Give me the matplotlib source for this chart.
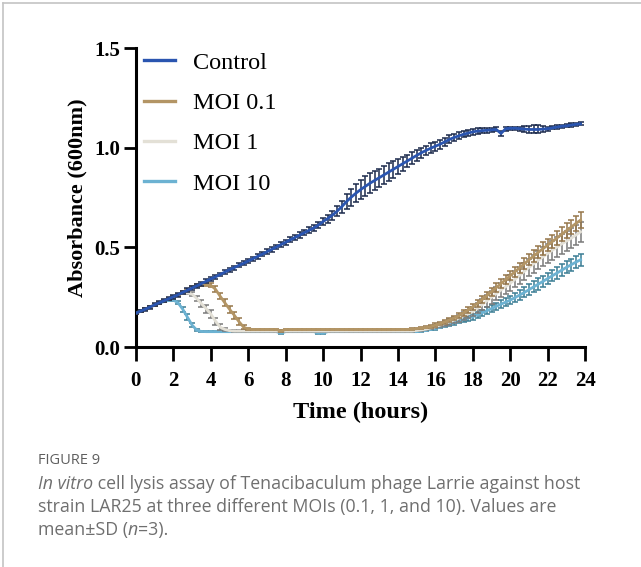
import numpy as np
import matplotlib.pyplot as plt
from matplotlib.lines import Line2D

# --- data (15 min readings, 0 - 23.75 h) ---
time_h = np.arange(96) * 0.25

control = [
    0.170, 0.180, 0.190, 0.200, 0.212, 0.222, 0.232, 0.242,
    0.252, 0.262, 0.274, 0.285, 0.296, 0.307, 0.318, 0.330,
    0.342, 0.352, 0.364, 0.376, 0.388, 0.398, 0.410, 0.420,
    0.432, 0.443, 0.455, 0.466, 0.478, 0.490, 0.502, 0.514,
    0.526, 0.538, 0.550, 0.562, 0.574, 0.586, 0.598, 0.612,
    0.630, 0.645, 0.662, 0.682, 0.705, 0.730, 0.752, 0.772,
    0.790, 0.806, 0.822, 0.836, 0.850, 0.864, 0.878, 0.892,
    0.906, 0.920, 0.934, 0.948, 0.962, 0.975, 0.987, 0.998,
    1.008, 1.018, 1.030, 1.042, 1.052, 1.060, 1.068, 1.074,
    1.080, 1.084, 1.086, 1.088, 1.090, 1.092, 1.072, 1.096,
    1.098, 1.098, 1.096, 1.094, 1.092, 1.092, 1.092, 1.094,
    1.096, 1.100, 1.104, 1.108, 1.110, 1.114, 1.118, 1.120,
]
control_sd = [
    0.006, 0.006, 0.007, 0.007, 0.008, 0.008, 0.008, 0.008,
    0.009, 0.009, 0.009, 0.010, 0.010, 0.010, 0.010, 0.010,
    0.010, 0.010, 0.010, 0.010, 0.010, 0.010, 0.010, 0.010,
    0.011, 0.011, 0.011, 0.011, 0.012, 0.012, 0.012, 0.012,
    0.012, 0.013, 0.013, 0.013, 0.014, 0.014, 0.015, 0.016,
    0.018, 0.020, 0.022, 0.026, 0.030, 0.036, 0.042, 0.046,
    0.048, 0.050, 0.050, 0.048, 0.046, 0.044, 0.044, 0.042,
    0.040, 0.036, 0.032, 0.030, 0.028, 0.026, 0.024, 0.024,
    0.022, 0.022, 0.020, 0.020, 0.018, 0.018, 0.016, 0.016,
    0.014, 0.014, 0.012, 0.012, 0.010, 0.010, 0.012, 0.010,
    0.008, 0.008, 0.010, 0.014, 0.018, 0.020, 0.020, 0.014,
    0.010, 0.008, 0.008, 0.008, 0.008, 0.008, 0.008, 0.008,
]

moi_01 = [
    0.170, 0.180, 0.190, 0.200, 0.212, 0.222, 0.232, 0.242,
    0.252, 0.262, 0.274, 0.285, 0.300, 0.308, 0.312, 0.313,
    0.310, 0.290, 0.255, 0.222, 0.190, 0.160, 0.128, 0.100,
    0.090, 0.088, 0.088, 0.088, 0.088, 0.088, 0.088, 0.080,
    0.088, 0.088, 0.088, 0.088, 0.088, 0.088, 0.088, 0.088,
    0.088, 0.088, 0.088, 0.088, 0.088, 0.088, 0.088, 0.088,
    0.088, 0.088, 0.088, 0.088, 0.088, 0.088, 0.088, 0.088,
    0.088, 0.088, 0.088, 0.090, 0.092, 0.095, 0.098, 0.102,
    0.110, 0.118, 0.126, 0.136, 0.146, 0.158, 0.172, 0.186,
    0.202, 0.220, 0.238, 0.258, 0.278, 0.298, 0.318, 0.338,
    0.358, 0.378, 0.398, 0.418, 0.438, 0.457, 0.476, 0.494,
    0.512, 0.530, 0.548, 0.566, 0.584, 0.602, 0.620, 0.637,
]
moi_01_sd = [
    0.004, 0.004, 0.004, 0.004, 0.004, 0.004, 0.004, 0.004,
    0.005, 0.005, 0.005, 0.005, 0.006, 0.006, 0.006, 0.008,
    0.010, 0.014, 0.016, 0.018, 0.018, 0.018, 0.016, 0.012,
    0.006, 0.004, 0.003, 0.003, 0.003, 0.003, 0.003, 0.006,
    0.003, 0.003, 0.003, 0.003, 0.003, 0.003, 0.003, 0.003,
    0.003, 0.003, 0.003, 0.003, 0.003, 0.003, 0.003, 0.003,
    0.003, 0.003, 0.003, 0.003, 0.003, 0.003, 0.003, 0.003,
    0.003, 0.003, 0.003, 0.004, 0.004, 0.005, 0.005, 0.006,
    0.008, 0.009, 0.010, 0.011, 0.012, 0.013, 0.014, 0.015,
    0.016, 0.017, 0.018, 0.019, 0.020, 0.021, 0.022, 0.023,
    0.024, 0.025, 0.026, 0.027, 0.028, 0.029, 0.030, 0.031,
    0.032, 0.033, 0.034, 0.035, 0.036, 0.037, 0.038, 0.040,
]

moi_1 = [
    0.170, 0.180, 0.190, 0.200, 0.212, 0.222, 0.232, 0.242,
    0.252, 0.262, 0.270, 0.272, 0.265, 0.244, 0.218, 0.193,
    0.166, 0.130, 0.100, 0.088, 0.082, 0.080, 0.080, 0.080,
    0.080, 0.080, 0.080, 0.080, 0.080, 0.080, 0.080, 0.080,
    0.080, 0.080, 0.080, 0.080, 0.080, 0.080, 0.080, 0.080,
    0.080, 0.080, 0.080, 0.080, 0.080, 0.080, 0.080, 0.080,
    0.080, 0.080, 0.080, 0.080, 0.080, 0.080, 0.080, 0.080,
    0.080, 0.080, 0.080, 0.080, 0.083, 0.086, 0.090, 0.096,
    0.102, 0.110, 0.118, 0.126, 0.135, 0.145, 0.156, 0.166,
    0.178, 0.195, 0.213, 0.232, 0.250, 0.268, 0.286, 0.303,
    0.320, 0.340, 0.360, 0.380, 0.400, 0.418, 0.436, 0.453,
    0.470, 0.486, 0.502, 0.518, 0.532, 0.546, 0.562, 0.578,
]
moi_1_sd = [
    0.004, 0.004, 0.004, 0.004, 0.004, 0.004, 0.004, 0.004,
    0.005, 0.005, 0.006, 0.008, 0.010, 0.014, 0.018, 0.020,
    0.020, 0.018, 0.014, 0.008, 0.004, 0.003, 0.003, 0.003,
    0.003, 0.003, 0.003, 0.003, 0.003, 0.003, 0.003, 0.003,
    0.003, 0.003, 0.003, 0.003, 0.003, 0.003, 0.003, 0.003,
    0.003, 0.003, 0.003, 0.003, 0.003, 0.003, 0.003, 0.003,
    0.003, 0.003, 0.003, 0.003, 0.003, 0.003, 0.003, 0.003,
    0.003, 0.003, 0.003, 0.003, 0.004, 0.005, 0.006, 0.007,
    0.008, 0.010, 0.012, 0.014, 0.016, 0.018, 0.020, 0.022,
    0.024, 0.026, 0.028, 0.030, 0.032, 0.034, 0.036, 0.038,
    0.040, 0.041, 0.042, 0.043, 0.044, 0.045, 0.046, 0.047,
    0.048, 0.048, 0.049, 0.049, 0.050, 0.050, 0.050, 0.050,
]

moi_10 = [
    0.170, 0.180, 0.190, 0.200, 0.210, 0.220, 0.228, 0.234,
    0.236, 0.222, 0.190, 0.150, 0.110, 0.085, 0.078, 0.077,
    0.077, 0.077, 0.077, 0.077, 0.077, 0.077, 0.077, 0.077,
    0.077, 0.077, 0.077, 0.077, 0.077, 0.077, 0.077, 0.070,
    0.077, 0.077, 0.077, 0.077, 0.077, 0.077, 0.077, 0.070,
    0.070, 0.077, 0.077, 0.077, 0.077, 0.077, 0.077, 0.077,
    0.077, 0.077, 0.077, 0.077, 0.077, 0.077, 0.077, 0.077,
    0.077, 0.077, 0.077, 0.077, 0.077, 0.080, 0.083, 0.088,
    0.093, 0.100, 0.107, 0.114, 0.122, 0.130, 0.138, 0.145,
    0.152, 0.162, 0.172, 0.182, 0.193, 0.204, 0.215, 0.225,
    0.236, 0.248, 0.261, 0.274, 0.288, 0.302, 0.316, 0.330,
    0.344, 0.358, 0.372, 0.386, 0.400, 0.413, 0.426, 0.438,
]
moi_10_sd = [
    0.004, 0.004, 0.004, 0.004, 0.004, 0.004, 0.004, 0.004,
    0.005, 0.008, 0.012, 0.014, 0.012, 0.006, 0.004, 0.003,
    0.003, 0.003, 0.003, 0.003, 0.003, 0.003, 0.003, 0.003,
    0.003, 0.003, 0.003, 0.003, 0.003, 0.003, 0.003, 0.004,
    0.003, 0.003, 0.003, 0.003, 0.003, 0.003, 0.003, 0.004,
    0.004, 0.003, 0.003, 0.003, 0.003, 0.003, 0.003, 0.003,
    0.003, 0.003, 0.003, 0.003, 0.003, 0.003, 0.003, 0.003,
    0.003, 0.003, 0.003, 0.003, 0.003, 0.004, 0.004, 0.005,
    0.006, 0.007, 0.008, 0.009, 0.010, 0.011, 0.012, 0.013,
    0.014, 0.015, 0.016, 0.017, 0.018, 0.019, 0.020, 0.021,
    0.022, 0.023, 0.024, 0.025, 0.026, 0.027, 0.028, 0.028,
    0.029, 0.029, 0.030, 0.030, 0.030, 0.030, 0.030, 0.030,
]

labels = ['Control', 'MOI 0.1', 'MOI 1', 'MOI 10']
line_colors = ['#2a55b0', '#b39565', '#e3e0d6', '#6cb2d2']
bar_colors = ['#1b2a4c', '#96764a', '#7a7a7a', '#3b7d94']

plt.rcParams['font.family'] = ['Liberation Serif', 'DejaVu Serif']

fig = plt.figure(figsize=(6.41, 5.67), dpi=100)
ax = fig.add_axes([0.212, 0.388, 0.701, 0.527])

series = [control, moi_01, moi_1, moi_10]
sds = [control_sd, moi_01_sd, moi_1_sd, moi_10_sd]
# draw MOI 10 first so that control ends up on top
zorders = [6, 5, 4, 3]
handles = []
for y, sd, lab, lc, bc, z in zip(series, sds, labels, line_colors, bar_colors, zorders):
    ax.errorbar(time_h, y, yerr=sd, color=lc, ecolor=bc, lw=2.0,
                elinewidth=1.1, capsize=2.3, capthick=1.1, zorder=z)
    handles.append(Line2D([], [], color=lc, lw=2.4))

ax.set_xlim(0, 24)
ax.set_ylim(0, 1.5)
ax.set_xticks(np.arange(0, 25, 2))
ax.set_yticks([0.0, 0.5, 1.0, 1.5])
ax.set_yticklabels(['0.0', '0.5', '1.0', '1.5'])
for s in ['top', 'right']:
    ax.spines[s].set_visible(False)
for s in ['left', 'bottom']:
    ax.spines[s].set_linewidth(2.2)
ax.tick_params(axis='x', direction='out', length=10, width=2.0,
               labelsize=15, pad=7)
ax.tick_params(axis='y', direction='out', length=9, width=2.0,
               labelsize=15, pad=2)
for lab in ax.get_xticklabels() + ax.get_yticklabels():
    lab.set_fontweight('bold')
ax.set_xlabel('Time (hours)', fontsize=17.5, fontweight='bold', labelpad=8)
ax.set_ylabel('Absorbance (600nm)', fontsize=16, fontweight='bold', labelpad=5)

ax.legend(handles, labels, loc='upper left', bbox_to_anchor=(0.0, 1.016),
          frameon=False, fontsize=17.5, handlelength=1.27, handletextpad=0.74,
          labelspacing=0.75, borderaxespad=0.0, borderpad=0.35)

# panel border
fig.add_artist(Line2D([0.005, 1.0], [0.994, 0.994], color='#c4c4c4', lw=1.2))
fig.add_artist(Line2D([0.005, 0.005], [0.0, 0.994], color='#c4c4c4', lw=1.2))

# caption
cap_font = ['Open Sans', 'DejaVu Sans']
fig.text(38 / 641, 1 - 461 / 567, 'FIGURE 9', family=cap_font, fontsize=10.5,
         color='#5f5f5f', va='center', ha='left')

fig.canvas.draw()
renderer = fig.canvas.get_renderer()


def place_row(pieces, x0, y_px):
    x = x0
    for txt, style in pieces:
        t = fig.text(x, 1 - y_px / 567, txt, family=cap_font, fontsize=12.8,
                     style=style, color='#6f6f6f', va='center', ha='left')
        bb = t.get_window_extent(renderer=renderer)
        x += bb.width / fig.bbox.width


x0 = 38 / 641
place_row([('In vitro', 'italic'),
           (' cell lysis assay of Tenacibaculum phage Larrie against host', 'normal')],
          x0, 484)
place_row([('strain LAR25 at three different MOIs (0.1, 1, and 10). Values are', 'normal')],
          x0, 507)
place_row([('mean\u00b1SD (', 'normal'), ('n', 'italic'), ('=3).', 'normal')],
          x0, 530)

fig.savefig('out.png', dpi=100)
